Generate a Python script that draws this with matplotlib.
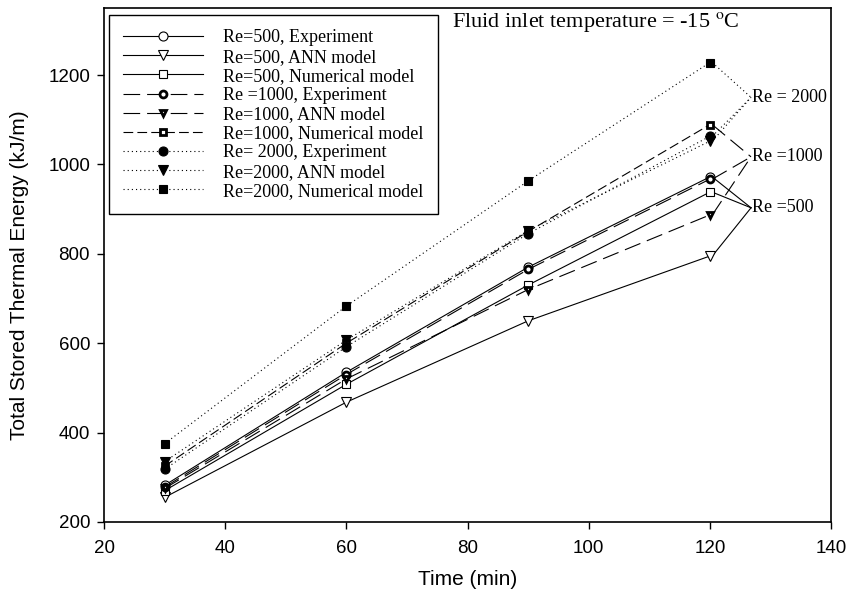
import matplotlib
matplotlib.use("Agg")
import matplotlib.pyplot as plt

plt.rcParams['lines.scale_dashes'] = False

time = [30, 60, 90, 120]
re500_exp = [282, 535, 770, 972]
re500_ann = [255, 468, 650, 795]
re500_num = [270, 508, 730, 938]
re1000_exp = [278, 530, 765, 967]
re1000_ann = [275, 520, 720, 887]
re1000_num = [325, 600, 850, 1089]
re2000_exp = [318, 592, 845, 1063]
re2000_ann = [335, 607, 852, 1052]
re2000_num = [375, 683, 963, 1228]

labels = ["Re=500, Experiment", "Re=500, ANN model", "Re=500, Numerical model",
          "Re =1000, Experiment", "Re=1000, ANN model", "Re=1000, Numerical model",
          "Re= 2000, Experiment", "Re=2000, ANN model", "Re=2000, Numerical model"]

group_labels = ["Re = 2000", "Re =1000", "Re =500"]
group_label_y = [1150, 1017, 903]
label_x = 127.0

fig = plt.figure(figsize=(8.55, 5.94), dpi=100)
ax = fig.add_axes([104/855, 1-522/594, 727/855, 514/594])

solid = '-'
long_dash = (0, (12, 5))
short_dash = (0, (7, 3))
dotted = (0, (0.8, 2.2))
lw = 0.8

series = [
    (re500_exp, solid, 'o', 'white', 6.5, 0.8),
    (re500_ann, solid, 'v', 'white', 6.5, 0.8),
    (re500_num, solid, 's', 'white', 6.0, 0.8),
    (re1000_exp, long_dash, 'o', 'white', 5.0, 2.0),
    (re1000_ann, long_dash, 'v', 'white', 5.0, 2.0),
    (re1000_num, short_dash, 's', 'white', 4.6, 2.0),
    (re2000_exp, dotted, 'o', 'black', 6.5, 0.8),
    (re2000_ann, dotted, 'v', 'black', 6.5, 0.8),
    (re2000_num, dotted, 's', 'black', 6.0, 0.8),
]

handles = []
for (vals, ls, mk, fc, ms, mew), lab in zip(series, labels):
    h, = ax.plot(time, vals, linestyle=ls, color='black', lw=lw, marker=mk,
                 markerfacecolor=fc, markeredgecolor='black', markersize=ms,
                 markeredgewidth=mew, label=lab, zorder=3)
    handles.append(h)

# leader lines to group labels
leaders = [
    ([re2000_num, re2000_exp, re2000_ann], dotted, group_label_y[0]),
    ([re1000_num, re1000_exp, re1000_ann], long_dash, group_label_y[1]),
    ([re500_exp, re500_num, re500_ann], solid, group_label_y[2]),
]
for vals_list, ls, ty in leaders:
    for vals in vals_list:
        ax.plot([time[-1] + 0.4, label_x - 0.2], [vals[-1], ty], linestyle=ls,
                color='black', lw=lw, zorder=2)

for txt, ty in zip(group_labels, group_label_y):
    ax.text(label_x, ty, txt, fontsize=13, family='Liberation Serif',
            va='center', ha='left')

ax.text(452/855, 1-22/594, "Fluid inlet temperature = -15 $^{\\rm o}$C",
        transform=fig.transFigure, fontsize=16, family='Liberation Serif',
        va='center', ha='left',
        math_fontfamily='stix')

ax.set_xlim(20, 140)
ax.set_ylim(200, 1350)
ax.set_xticks([20, 40, 60, 80, 100, 120, 140])
ax.set_yticks([200, 400, 600, 800, 1000, 1200])
ax.tick_params(axis='both', which='both', direction='out', length=5, width=1,
               labelsize=13.5, top=False, right=False, pad=5)
ax.tick_params(axis='x', pad=8)
for lab in ax.get_xticklabels() + ax.get_yticklabels():
    lab.set_family('Liberation Sans')
for sp in ax.spines.values():
    sp.set_linewidth(1.2)

ax.set_xlabel("Time (min)", fontsize=15, family='Liberation Sans', labelpad=9)
ax.set_ylabel("Total Stored Thermal Energy (kJ/m)", fontsize=15,
              family='Liberation Sans')
ax.yaxis.set_label_coords(-0.103, 0.48)

leg = ax.legend(handles=handles, loc='upper left',
                bbox_to_anchor=(5/727, 1-7/514), borderaxespad=0,
                prop={'family': 'Liberation Serif', 'size': 13},
                handlelength=4.4, handletextpad=1.1, labelspacing=0.12,
                borderpad=0.8, numpoints=1, fancybox=False, framealpha=1,
                edgecolor='black')
leg.get_frame().set_linewidth(1.0)

fig.savefig("out.png", dpi=100)
